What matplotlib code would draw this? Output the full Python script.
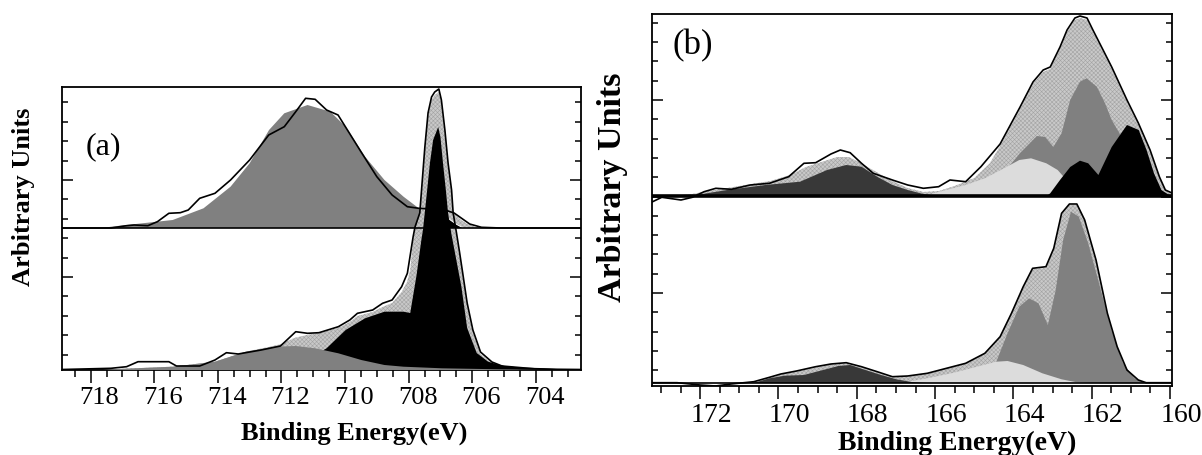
import numpy as np
import matplotlib
matplotlib.use('Agg')
import matplotlib.pyplot as plt
import matplotlib.transforms as mtransforms
from matplotlib.ticker import MultipleLocator, NullFormatter

plt.rcParams['font.family'] = ['Liberation Serif', 'DejaVu Serif']
plt.rcParams['hatch.linewidth'] = 0.4

# ---------------- panel (a): Fe 2p, two spectra ----------------
# lower spectrum
a_lo_env_x = [718.9, 717.36, 716.87, 716.51, 715.54, 715.3, 714.57, 714.09, 713.73, 713.36, 712.64, 712.03,
              711.55, 711.18, 710.82, 710.21, 709.85, 709.61, 709.13, 708.82, 708.52, 708.22, 708.04, 707.86,
              707.8, 707.65, 707.49, 707.39, 707.28, 707.18, 707.05, 706.97, 706.86, 706.76, 706.65, 706.6,
              706.5, 706.4, 706.3, 706.16, 705.98, 705.74, 705.38, 705.01, 704.53, 703.32, 702.6]
a_lo_env_y = [0.5, 1.7, 3.3, 8.3, 8.3, 4, 4, 10, 17.3, 16, 20, 24,
              38.3, 36.7, 37.3, 43.3, 50, 56.7, 60, 66.7, 70, 83.3, 96.7, 133,
              143, 157, 223, 257, 273, 278, 281, 270, 240, 207, 180, 157,
              138, 118, 97, 67, 40, 18, 8, 3.3, 1.7, 0.7, 0.5]
a_lo_fit_x = [718.9, 717.36, 715.42, 714.09, 713.12, 712.4, 712.0, 711.6, 711.2, 710.82, 710.21, 709.85,
              709.61, 709.13, 708.82, 708.52, 708.22, 708.05, 707.95, 707.86, 707.8, 707.65, 707.49, 707.39,
              707.28, 707.18, 707.05, 706.97, 706.86, 706.76, 706.65, 706.6, 706.5, 706.4, 706.3, 706.16,
              705.98, 705.74, 705.38, 705.01, 704.53, 703.3, 702.6]
a_lo_fit_y = [0, 0.7, 3.3, 8.3, 18.3, 23, 26, 32, 35, 37, 42, 48,
              54, 58, 63, 67, 78, 88, 100, 130, 141, 155, 220, 254,
              270, 275, 278, 267, 237, 204, 177, 154, 135, 115, 94, 64,
              37, 16, 7, 3, 1.5, 0.5, 0.3]
a_lo_gray_x = [717.6, 717.36, 715.42, 714.09, 713.12, 712.15, 711.55, 710.94, 710.21, 709.49, 708.76, 708.16,
               706.95, 705.13, 703.5]
a_lo_gray_y = [0, 0.7, 3.3, 8.3, 18.3, 23.3, 24, 21.7, 16.7, 10, 5, 3.3, 1.7, 0.7, 0]
a_lo_black_x = [711.8, 711.2, 710.58, 709.98, 709.37, 708.76, 708.16, 707.95, 707.75, 707.6, 707.55, 707.44,
                707.33, 707.23, 707.07, 707.0, 706.92, 706.83, 706.76, 706.65, 706.5, 706.34, 706.16, 705.86,
                705.5, 705.13, 703.93, 703.0]
a_lo_black_y = [2, 10, 21.7, 40, 51.7, 58.3, 58.3, 57, 95, 130, 140, 173,
                207, 230, 243, 233, 207, 180, 157, 135, 110, 83, 42, 17,
                8.3, 5, 1.7, 0.5]

# upper spectrum (drawn on its own baseline)
a_up_env_x = [718.9, 717.36, 716.87, 716.63, 716.2, 715.9, 715.54, 715.18, 714.93, 714.57, 714.09, 713.6,
              713.0, 712.4, 711.91, 711.55, 711.24, 710.94, 710.58, 710.22, 709.86, 709.5, 709.0, 708.52,
              708.04, 707.68, 707.3, 707.0, 706.57, 706.08, 705.71, 705.1, 702.6]
a_up_env_y = [0, 0, 2.3, 3, 2.3, 6.3, 14.7, 15.3, 18, 29.7, 34.7, 48,
              68, 93, 101.3, 116.3, 129.7, 128.7, 118, 113, 94.7, 76.3, 51.3, 33,
              21.3, 19.7, 19, 19.5, 15, 4, 0.7, 0, 0]
a_up_gray_x = [717.6, 717.36, 715.42, 714.45, 713.6, 713.0, 712.39, 711.91, 711.18, 710.46, 709.98, 709.37,
               708.76, 708.16, 707.68, 707.31, 706.71, 706.1, 705.5]
a_up_gray_y = [0, 1.3, 8, 19.7, 41.3, 64.7, 98, 114.7, 123, 116.3, 101.3, 71.3,
               48, 31.3, 19.7, 13, 6.3, 1.3, 0]
a_up_bump_x = [707.85, 707.6, 707.43, 707.2, 707.0, 706.8, 706.57, 706.35, 706.2, 705.83]
a_up_bump_y = [0, 6, 11.3, 17, 19.7, 18.5, 14.7, 8, 4.7, 0.3]
a_up_black_x = [707.6, 707.4, 707.2, 706.96, 706.75, 706.5, 706.3]
a_up_black_y = [0, 4, 8.5, 11.3, 9.5, 4, 0.5]

# ---------------- panel (b): S 2p, two spectra ----------------
b_lo_env_x = [173.23, 172.59, 172.0, 171.61, 171.21, 170.63, 170.23, 169.94, 169.54, 169.05, 168.66, 168.27,
              167.88, 167.48, 167.09, 166.7, 166.2, 165.71, 165.22, 164.73, 164.34, 164.05, 163.75, 163.51,
              163.17, 162.97, 162.77, 162.57, 162.38, 162.18, 161.89, 161.6, 161.35, 161.1, 160.81, 160.61,
              159.95]
b_lo_env_y = [0.3, 0.3, -2, -3, -1, 1.3, 5.7, 9, 12, 16.3, 19, 20.3,
              16.3, 11.3, 6.3, 7, 9.7, 14.7, 19.7, 29.7, 46.3, 69.7, 96.3, 114.7,
              116.3, 134.7, 169.7, 179, 179, 163, 123, 69.7, 36.3, 13, 3, 0.3,
              0.3]
b_lo_fit_y = [0, 0, 0, 0, 0, 1, 5, 8.5, 11.5, 15.5, 18.5, 19.5,
              15.5, 10.5, 5.5, 6.5, 9.5, 14.5, 19.5, 29.5, 46, 69, 95.5, 114,
              115, 134, 169, 178, 178, 162, 122, 69, 36, 12.5, 2.5, 0,
              0]
b_lo_dark_x = [170.63, 170.23, 169.84, 169.35, 168.86, 168.47, 168.17, 167.78, 167.38, 166.99, 166.6, 166.2]
b_lo_dark_y = [0, 4.7, 7.3, 8, 13, 17, 18, 13, 8, 3.7, 1, 0]
b_lo_light_x = [166.89, 166.2, 165.52, 164.93, 164.44, 164.15, 163.75, 163.26, 162.77, 162.38, 162.0]
b_lo_light_y = [0, 4.7, 10.3, 16.3, 21.3, 22, 18, 9.7, 3.7, 0.7, 0]
b_lo_mid_x = [165.2, 164.7, 164.44, 164.15, 163.85, 163.6, 163.36, 163.12, 162.92, 162.73, 162.53, 162.33,
              162.09, 161.79, 161.5, 161.2, 160.91, 160.61]
b_lo_mid_y = [0, 8, 21, 49.7, 76.3, 84.7, 79.7, 58, 93, 143, 171.3, 166.3,
              139.7, 96.3, 53, 19.7, 4.7, 0]

b_up_env_x = [173.23, 172.98, 172.49, 172.2, 171.9, 171.6, 171.2, 170.72, 170.23, 169.74, 169.35, 169.05,
              168.66, 168.42, 168.17, 167.88, 167.58, 167.09, 166.7, 166.3, 165.91, 165.62, 165.22, 164.83,
              164.34, 163.83, 163.5, 163.24, 163.06, 162.81, 162.63, 162.43, 162.3, 162.12, 161.97, 161.71,
              161.49, 161.1, 160.81, 160.51, 160.27, 160.12, 159.95]
b_up_env_y = [-6, -1.3, -4, -1.3, 4.3, 7.7, 6.7, 11, 12.7, 19.3, 32.7, 33.3,
              42, 46, 43.3, 32.7, 22.7, 16, 11, 7.7, 9.3, 16, 14.3, 29.3,
              52, 89, 114, 126, 129, 149, 166, 178, 180, 178, 166, 146,
              129, 96, 73, 46, 19, 6, 3]
b_up_fit_x = [173.23, 172.6, 172.2, 171.8, 171.3, 170.7, 170.2, 169.7, 169.3, 168.9, 168.5, 168.2,
              167.9, 167.5, 167.1, 166.7, 166.3, 165.9, 165.5, 165.0, 164.6, 164.34, 163.83, 163.5,
              163.24, 163.06, 162.81, 162.63, 162.43, 162.3, 162.12, 161.97, 161.71, 161.49, 161.1, 160.81,
              160.51, 160.27, 160.1, 159.95]
b_up_fit_y = [0, 0.5, 2, 5, 8, 12, 15, 21, 29, 34, 39, 39,
              33, 24, 15, 8, 4, 5, 10, 18, 33, 50, 87, 112,
              124, 127, 147, 164, 176, 178, 176, 164, 144, 127, 94, 71,
              44, 18, 5, 2]
b_up_dark_x = [172.1, 171.31, 170.33, 169.45, 168.76, 168.27, 167.88, 167.48, 167.09, 166.7, 166.3, 165.9]
b_up_dark_y = [1, 6, 11, 14.3, 26, 31, 29.3, 19.3, 11, 6, 2, 0]
b_up_light_x = [166.6, 166.2, 165.72, 165.22, 164.73, 164.24, 163.85, 163.55, 163.16, 162.87, 162.57, 162.18, 161.9]
b_up_light_y = [0, 1, 6, 11, 17.7, 27.7, 36, 37.7, 32.7, 26, 12.7, 2.7, 0]
b_up_mid_x = [164.9, 164.6, 164.34, 164.1, 163.83, 163.4, 163.19, 162.98, 162.77, 162.55, 162.3, 162.13,
              161.87, 161.66, 161.49, 161.1, 160.8, 160.5, 160.2, 159.95]
b_up_mid_y = [0, 6, 18, 30, 43, 60, 59, 49, 62.7, 96, 114.3, 117.7,
              109.3, 92.7, 76, 50, 28, 12, 4, 1]
b_up_black_x = [163.15, 163.06, 162.81, 162.55, 162.3, 162.09, 161.83, 161.49, 161.1, 160.8, 160.6, 160.41,
                160.22, 160.03]
b_up_black_y = [0, 2.7, 16, 29, 35.3, 32.7, 21, 49, 71, 66, 46, 22.7, 6, 1]

a_up_base, a_lo_base = 142, 0
b_up_base, b_lo_base = 190, 3

HATCH_FACE = '#c9c9c9'
HATCH_EDGE = '#a3a3a3'


def hatched(ax, x, y, base, z):
    ax.fill_between(x, base, np.array(y) + base, facecolor=HATCH_FACE, edgecolor=HATCH_EDGE,
                    hatch='xxxxxxxx', linewidth=0, zorder=z)


def comp(ax, x, y, base, color, z, edge=None):
    ax.fill_between(x, base, np.array(y) + base, facecolor=color,
                    edgecolor=edge if edge else 'none', linewidth=0.7 if edge else 0, zorder=z)


def line(ax, x, y, base):
    ax.plot(x, np.array(y) + base, color='k', lw=1.2, zorder=8, solid_joinstyle='round')


fig = plt.figure(figsize=(12.02, 4.55), dpi=100)
axa = fig.add_axes([62 / 1202, 85 / 455, 519 / 1202, 283 / 455])
axb = fig.add_axes([652 / 1202, 69 / 455, 520 / 1202, 372 / 455])

# panel (a)
comp(axa, a_up_gray_x, a_up_gray_y, a_up_base, '#808080', 1)
hatched(axa, a_lo_fit_x, a_lo_fit_y, a_lo_base, 2)
hatched(axa, a_up_bump_x, a_up_bump_y, a_up_base, 2.5)
comp(axa, a_up_black_x, a_up_black_y, a_up_base, 'k', 2.6, edge='white')
comp(axa, a_lo_black_x, a_lo_black_y, a_lo_base, 'k', 3)
comp(axa, a_lo_gray_x, a_lo_gray_y, a_lo_base, '#808080', 3.1)
line(axa, a_lo_env_x, a_lo_env_y, a_lo_base)
line(axa, a_up_env_x, a_up_env_y, a_up_base)
axa.axhline(a_up_base, color='k', lw=1.2, zorder=9)
axa.set_xlim(718.9, 702.58)
axa.set_ylim(0, 283)
axa.yaxis.set_major_locator(MultipleLocator(97, offset=93))
axa.yaxis.set_minor_locator(MultipleLocator(19.4, offset=15.4))

# panel (b)
hatched(axb, b_lo_env_x, b_lo_fit_y, b_lo_base, 1)
comp(axb, b_lo_mid_x, b_lo_mid_y, b_lo_base, '#808080', 2)
comp(axb, b_lo_light_x, b_lo_light_y, b_lo_base, '#dcdcdc', 3)
comp(axb, b_lo_dark_x, b_lo_dark_y, b_lo_base, '#383838', 3)
hatched(axb, b_up_fit_x, b_up_fit_y, b_up_base, 1)
comp(axb, b_up_mid_x, b_up_mid_y, b_up_base, '#808080', 2)
comp(axb, b_up_light_x, b_up_light_y, b_up_base, '#dcdcdc', 3)
comp(axb, b_up_dark_x, b_up_dark_y, b_up_base, '#383838', 3)
comp(axb, b_up_black_x, b_up_black_y, b_up_base, 'k', 4)
line(axb, b_lo_env_x, b_lo_env_y, b_lo_base)
line(axb, b_up_env_x, b_up_env_y, b_up_base)
axb.axhline(b_up_base, color='k', lw=2.6, zorder=9)
axb.axhline(b_lo_base, color='k', lw=1.2, zorder=9)
axb.set_xlim(173.23, 159.95)
axb.set_ylim(0, 372)
axb.yaxis.set_major_locator(MultipleLocator(96.5, offset=93))
axb.yaxis.set_minor_locator(MultipleLocator(19.3, offset=15.8))

for ax, lsize, dx in ((axa, 19, 9), (axb, 20, 11)):
    for s in ax.spines.values():
        s.set_linewidth(1.3)
    ax.xaxis.set_major_locator(MultipleLocator(2))
    ax.xaxis.set_minor_locator(MultipleLocator(0.5))
    ax.yaxis.set_major_formatter(NullFormatter())
    ax.tick_params(axis='x', which='both', direction='out', top=False, width=1.1)
    ax.tick_params(axis='x', which='major', length=9, labelsize=lsize, pad=3)
    ax.tick_params(axis='x', which='minor', length=5)
    ax.tick_params(axis='y', which='both', direction='in', left=True, right=True, width=1.1)
    ax.tick_params(axis='y', which='major', length=8)
    ax.tick_params(axis='y', which='minor', length=4)
    # tick labels in the source sit a little right of their ticks
    off = mtransforms.ScaledTranslation(dx / 100, 0, fig.dpi_scale_trans)
    for lab in ax.get_xticklabels():
        lab.set_transform(lab.get_transform() + off)

fig.text(24 / 1202, 1 - 197 / 455, 'Arbitrary Units', rotation=90, ha='center', va='center',
         fontsize=19, fontweight='bold')
fig.text(612 / 1202, 1 - 187 / 455, 'Arbitrary Units', rotation=90, ha='center', va='center',
         fontsize=24.5, fontweight='bold')
fig.text(354 / 1202, 1 - 440 / 455, 'Binding Energy(eV)', ha='center', va='baseline',
         fontsize=19, fontweight='bold')
fig.text(957 / 1202, 1 - 450 / 455, 'Binding Energy(eV)', ha='center', va='baseline',
         fontsize=20, fontweight='bold')
fig.text(103 / 1202, 1 - 147 / 455, '(a)', ha='center', va='center', fontsize=23)
fig.text(693 / 1202, 1 - 46 / 455, '(b)', ha='center', va='center', fontsize=25)

fig.savefig('out.png', dpi=100)
